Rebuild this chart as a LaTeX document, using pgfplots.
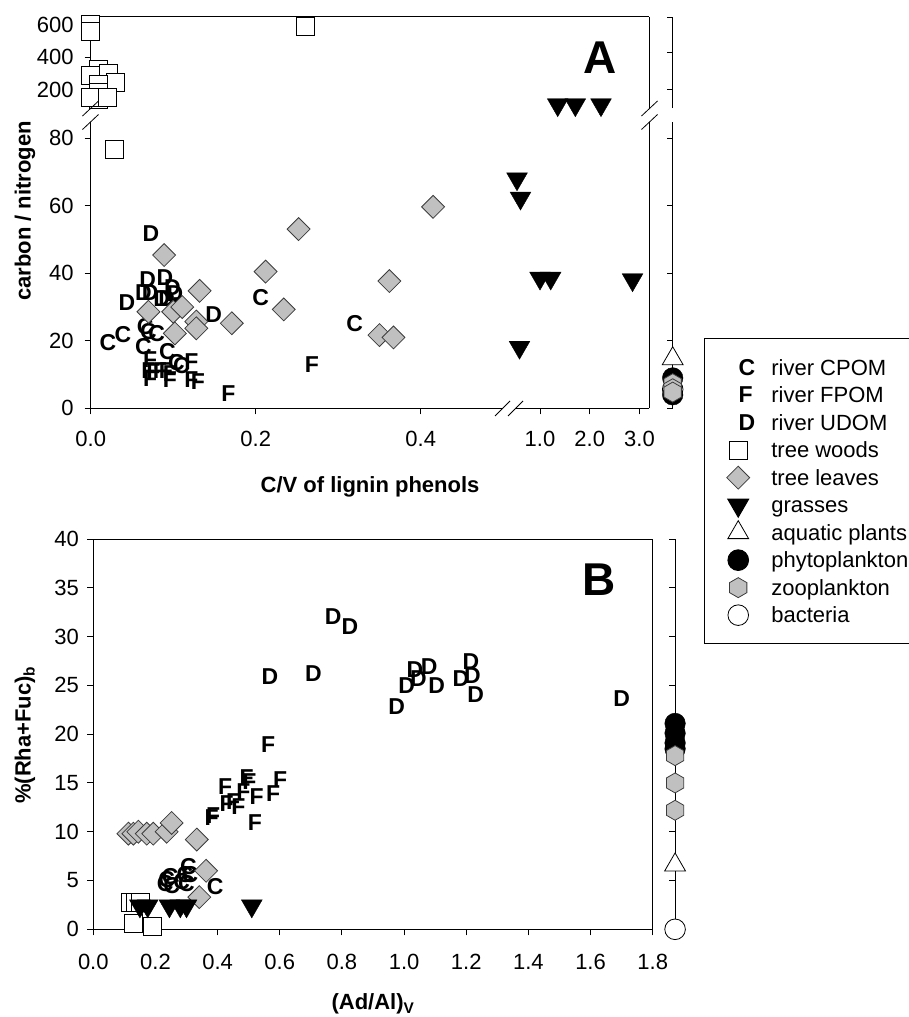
\documentclass[border=0pt]{standalone}
\usepackage{fontspec}
\setmainfont{Liberation Sans}
\usepackage{pgfplots}
\pgfplotsset{compat=1.18}
\newcommand\tf{\fontsize{22}{26}\selectfont}
\newcommand\lf{\fontsize{22}{26}\selectfont}
\newcommand\mf{\fontsize{23}{26}\selectfont\bfseries}
\definecolor{lg}{RGB}{192,192,192}
\definecolor{dg}{RGB}{60,60,60}
\pgfdeclareplotmark{hexagon*}{%
  \pgfpathmoveto{\pgfqpointpolar{90}{\pgfplotmarksize}}%
  \pgfpathlineto{\pgfqpointpolar{150}{\pgfplotmarksize}}%
  \pgfpathlineto{\pgfqpointpolar{210}{\pgfplotmarksize}}%
  \pgfpathlineto{\pgfqpointpolar{270}{\pgfplotmarksize}}%
  \pgfpathlineto{\pgfqpointpolar{330}{\pgfplotmarksize}}%
  \pgfpathlineto{\pgfqpointpolar{30}{\pgfplotmarksize}}%
  \pgfpathclose
  \pgfusepathqfillstroke}
\pgfdeclareplotmark{ltick}{%
  \pgfpathmoveto{\pgfpointorigin}%
  \pgfpathlineto{\pgfqpoint{-6pt}{0pt}}%
  \pgfusepathqstroke}
\pgfplotsset{
  every axis/.append style={scale only axis, clip=false,
    axis line style={-, line width=1pt},
    tick style={black, line width=1pt},
    major tick length=6pt, tick align=outside,
    tick label style={font=\tf},
    /pgf/number format/assume math mode=true,
    scaled ticks=false,
    xticklabel style={anchor=north, text height=16pt, text depth=0pt, yshift=-13pt, /pgf/number format/fixed, /pgf/number format/fixed zerofill, /pgf/number format/precision=1}},
  panelA/.style={yticklabel style={xshift=-7.5pt}},
  sC/.style={only marks, black, mark=text, text mark={C}, text mark as node=true, text mark style={font=\mf, inner sep=0pt}},
  sF/.style={only marks, black, mark=text, text mark={F}, text mark as node=true, text mark style={font=\mf, inner sep=0pt}},
  sD/.style={only marks, black, mark=text, text mark={D}, text mark as node=true, text mark style={font=\mf, inner sep=0pt}},
  sW/.style={only marks, mark=square*, mark size=9pt, mark options={draw=black, fill=white, line width=0.8pt}},
  sL/.style={only marks, mark=square*, mark size=8.1pt, mark options={rotate=45, draw=dg, fill=lg, line width=0.8pt}},
  sG/.style={only marks, mark=triangle*, mark size=12pt, mark options={rotate=180, draw=black, fill=black}},
  sA/.style={only marks, mark=triangle*, mark size=12pt, mark options={draw=black, fill=white, line width=0.8pt}},
  sP/.style={only marks, mark=*, mark size=10.3pt, mark options={draw=black, fill=black}},
  sZ/.style={only marks, mark=hexagon*, mark size=10pt, mark options={draw=dg, fill=lg, line width=0.8pt}},
  sB/.style={only marks, mark=*, mark size=10.3pt, mark options={draw=black, fill=white, line width=0.8pt}},
  sLine/.style={black, line width=1pt, forget plot, mark=none},
  sTick/.style={only marks, black, mark=ltick, mark options={line width=1pt}, forget plot},
}
\begin{document}
\begin{tikzpicture}
\useasboundingbox (0pt,0pt) rectangle (908pt,-1017pt);
% ---------------- Panel A: lower left
\begin{axis}[panelA, at={(90.7pt,-408.3pt)}, anchor=south west, width=411.3pt, height=286.3pt,
  xmin=0, xmax=0.49855, ymin=0, ymax=84.83,
  axis x line*=bottom, axis y line*=left,
  xtick={0,0.2,0.4}, ytick={0,20,40,60,80}]
\addplot[sLine] coordinates {(0.70545,0) (0.70545,84.83)};
\addplot[sTick] coordinates {(0.70545,0) (0.70545,20) (0.70545,40) (0.70545,60) (0.70545,80)};
\addplot[sC] coordinates {(0.021,19.4) (0.039,21.7) (0.066,24.2) (0.070,22.7) (0.080,22.2) (0.064,18.3) (0.093,16.8) (0.104,13.4) (0.110,12.8) (0.206,32.8) (0.320,25.0)};
\addplot[sF] coordinates {(0.072,14.3) (0.070,11.3) (0.076,10.8) (0.084,11.3) (0.091,11.3) (0.096,10.4) (0.072,8.9) (0.096,8.4) (0.122,13.8) (0.122,8.4) (0.130,7.9) (0.167,4.4) (0.268,13.1)};
\addplot[sD] coordinates {(0.073,51.9) (0.090,38.8) (0.069,38.0) (0.099,35.8) (0.064,34.3) (0.072,34.3) (0.086,32.6) (0.092,32.6) (0.102,34.0) (0.044,31.3) (0.109,30.3) (0.149,27.8)};
\addplot[sW] coordinates {(0.029,76.7)};
\addplot[sL] coordinates {(0.089,45.4) (0.132,34.8) (0.070,28.6) (0.100,28.6) (0.111,30.0) (0.128,25.7) (0.128,23.7) (0.102,22.2) (0.171,25.2) (0.212,40.5) (0.252,53.1) (0.234,29.3) (0.415,59.7) (0.362,37.7) (0.350,21.7) (0.367,21.0)};
\addplot[sA] coordinates {(0.70545,14.7)};
\addplot[sB] coordinates {(0.70545,5.6)};
\addplot[sP] coordinates {(0.70545,9.0) (0.70545,4.0)};
\addplot[sZ] coordinates {(0.70545,7.3) (0.70545,5.8) (0.70545,4.8)};
\end{axis}
% ---------------- Panel A: lower right
\begin{axis}[panelA, at={(516pt,-408.3pt)}, anchor=south west, width=133.3pt, height=286.3pt,
  xmin=0.5176, xmax=3.197, ymin=0, ymax=84.83,
  axis x line*=bottom, axis y line*=right,
  xtick={1,2,3}, ytick=\empty]
\addplot[sG] coordinates {(0.538,68.0) (0.608,62.3) (1.0,38.6) (1.215,38.6) (2.86,38.1) (0.588,18.1)};
\end{axis}
% ---------------- Panel A: upper left
\begin{axis}[panelA, at={(90.7pt,-108pt)}, anchor=south west, width=415.3pt, height=91pt,
  xmin=0, xmax=0.5034, ymin=86.2, ymax=646.2,
  axis x line*=top, axis y line*=left,
  xtick=\empty, ytick={200,400,600}]
\addplot[sLine] coordinates {(0.70545,86.2) (0.70545,646.2)};
\addplot[sTick] coordinates {(0.70545,644) (0.70545,426) (0.70545,201)};
\addplot[sW] coordinates {(0,602) (0,560) (0.0093,326) (0.022,300) (0,284) (0.030,243) (0.0093,230) (0.0093,182) (0.0093,141) (0,154) (0.020,151) (0.26,586)};
\end{axis}
% ---------------- Panel A: upper right
\begin{axis}[panelA, at={(506pt,-108pt)}, anchor=south west, width=143.3pt, height=91pt,
  xmin=0.3166, xmax=3.197, ymin=86.2, ymax=646.2,
  axis x line*=top, axis y line*=right,
  xtick=\empty, ytick=\empty]
\addplot[sG] coordinates {(1.356,106.5) (1.71,106.5) (2.226,106.5)};
\end{axis}
% ---------------- Panel B
\begin{axis}[at={(93.3pt,-929.3pt)}, anchor=south west, width=559.4pt, height=390.3pt,
  xmin=0, xmax=1.8, ymin=0, ymax=40, tick pos=left,
  yticklabel style={xshift=-5pt}, xticklabel style={yshift=-2pt},
  xtick={0,0.2,0.4,0.6,0.8,1.0,1.2,1.4,1.6,1.8}, ytick={0,5,10,15,20,25,30,35,40},
  legend cell align=left,
  legend style={at={(axis description cs:1.0922,1.514)}, anchor=north west, draw=black, line width=1pt, fill=white,
    font=\lf, inner xsep=22pt, inner ysep=15pt, row sep=0pt,
    /tikz/every odd column/.append style={column sep=14pt},
    nodes={inner ysep=4pt, text height=17.3pt, text depth=2.2pt}}]
\addplot[sLine] coordinates {(1.872,0) (1.872,40)};
\addplot[sTick] coordinates {(1.872,0) (1.872,5) (1.872,10) (1.872,15) (1.872,20) (1.872,25) (1.872,30) (1.872,35) (1.872,40)};
\addplot[sC] coordinates {(0.236,5.05) (0.231,4.7) (0.247,5.4) (0.252,4.5) (0.284,4.9) (0.300,4.7) (0.306,6.4) (0.311,5.6) (0.295,5.6) (0.392,4.4)};
\addlegendentry{river CPOM}
\addplot[sF] coordinates {(0.4935,15.6) (0.502,15.1) (0.601,15.3) (0.424,14.6) (0.526,13.6) (0.579,13.9) (0.483,14.1) (0.429,12.9) (0.450,13.1) (0.467,12.6) (0.381,11.4) (0.386,11.7) (0.520,10.9) (0.563,18.9)};
\addlegendentry{river FPOM}
\addplot[sD] coordinates {(0.772,32.0) (0.826,31.0) (0.5685,25.9) (0.708,26.2) (1.008,25.0) (1.035,26.6) (1.046,25.7) (1.081,26.9) (1.105,25.0) (0.976,22.8) (1.183,25.7) (1.215,27.4) (1.22,26.0) (1.23,24.1) (1.70,23.6)};
\addlegendentry{river UDOM}
\addplot[sW] coordinates {(0.118,2.8) (0.134,2.8) (0.150,2.8) (0.13,0.6) (0.19,0.3)};
\addlegendentry{tree woods}
\addplot[sL] coordinates {(0.113,9.8) (0.129,9.8) (0.145,10.0) (0.172,9.8) (0.193,9.8) (0.236,10.0) (0.252,10.9) (0.333,9.2) (0.363,6.0) (0.341,3.3)};
\addlegendentry{tree leaves}
\addplot[sG] coordinates {(0.15,2.4) (0.175,2.4) (0.245,2.4) (0.28,2.4) (0.30,2.4) (0.51,2.4)};
\addlegendentry{grasses}
\addplot[sA] coordinates {(1.872,6.6)};
\addlegendentry{aquatic plants}
\addplot[sP] coordinates {(1.872,21.1) (1.872,20.1) (1.872,19.1) (1.872,18.5)};
\addlegendentry{phytoplankton}
\addplot[sZ] coordinates {(1.872,17.8) (1.872,15.0) (1.872,12.2)};
\addlegendentry{zooplankton}
\addplot[sB] coordinates {(1.872,0)};
\addlegendentry{bacteria}
\end{axis}
% ---------------- break marks
\begin{scope}[x=1pt,y=-1pt,line width=0.8pt]
\draw (82.5,116)--(98.5,101); \draw (82.5,129.5)--(98.5,114.5);
\draw (641.5,116)--(657.5,101); \draw (641.5,129.5)--(657.5,114.5);
\draw (495,416)--(510,401); \draw (508,416)--(523,401);
\end{scope}
% ---------------- labels
\node[font=\lf\bfseries, rotate=90] at (25pt,-211pt) {carbon / nitrogen};
\node[font=\lf\bfseries] at (370pt,-486.5pt) {C/V of lignin phenols};
\node[font=\lf\bfseries, rotate=90] at (25pt,-735pt) {\%(Rha+Fuc)\textsubscript{b}};
\node[font=\lf\bfseries] at (373pt,-1004pt) {(Ad/Al)\textsubscript{V}};
\node[font=\fontsize{46}{50}\selectfont\bfseries] at (600pt,-57.5pt) {A};
\node[font=\fontsize{46}{50}\selectfont\bfseries] at (599pt,-580pt) {B};
\end{tikzpicture}
\end{document}
